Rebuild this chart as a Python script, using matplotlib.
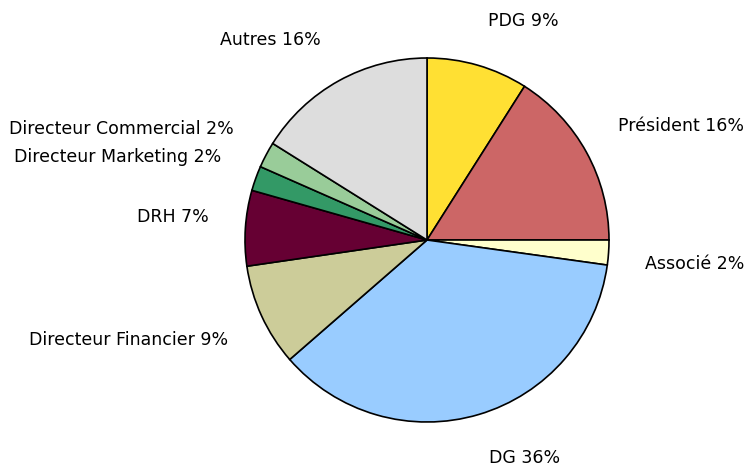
import matplotlib
matplotlib.use('Agg')
import matplotlib.pyplot as plt

# slice names and shares (clockwise from the top)
names = ["PDG", "Président", "Associé", "DG", "Directeur Financier",
         "DRH", "Directeur Marketing", "Directeur Commercial", "Autres"]
shares = [9.0, 16.0, 2.2, 36.4, 9.1, 6.7, 2.2, 2.3, 16.1]
colours = ["#FFE033", "#CC6666", "#FFFFCC", "#99CCFF", "#CCCC99",
           "#660033", "#339966", "#99CC99", "#DDDDDD"]

total = sum(shares)
labels = [f"{n} {round(v / total * 100)}%" for n, v in zip(names, shares)]

fig = plt.figure(figsize=(7.46, 4.69), dpi=100)
# pie centre at about (427, 240) px, radius 182 px
ax = fig.add_axes([(427 - 182) / 746, (229 - 182) / 469, 364 / 746, 364 / 469])
wedges, texts = ax.pie(shares, labels=labels, colors=colours, startangle=90,
                       counterclock=False, labeldistance=1.2,
                       wedgeprops=dict(edgecolor="black", linewidth=1.2),
                       textprops=dict(fontsize=12.5, family="DejaVu Sans"))

# labels sit above the anchor point on the top half, below it on the bottom half
for t in texts:
    x, y = t.get_position()
    t.set_va('bottom' if y > 0 else 'top')

ax.set_xlim(-1, 1)
ax.set_ylim(-1, 1)
ax.set_aspect('equal')
ax.axis('off')

fig.savefig("out.png", dpi=100)
